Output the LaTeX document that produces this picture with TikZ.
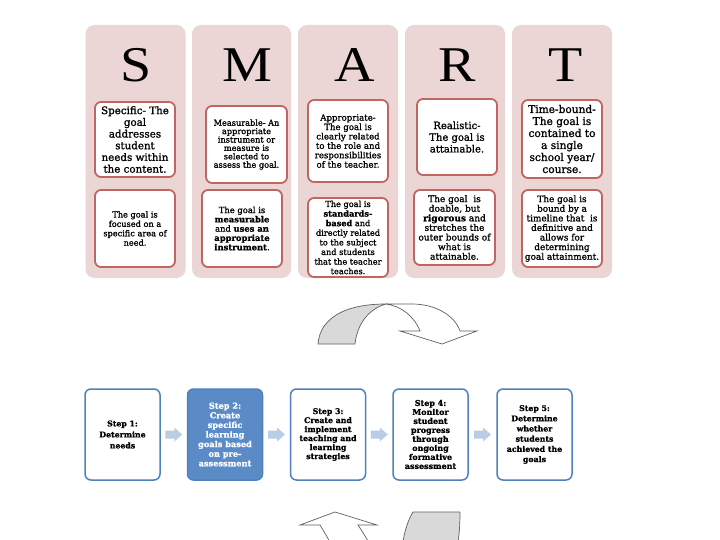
\documentclass[tikz,border=0pt]{standalone}
\usepackage{fontspec}
\setmainfont{DejaVu Serif}[RawFeature={embolden=1.2}]
\newfontfamily\letterfont{Liberation Serif}
\usetikzlibrary{calc}
\definecolor{colpink}{HTML}{EBD5D5}
\definecolor{boxred}{HTML}{BF6661}
\definecolor{stepblue}{HTML}{4F81BD}
\definecolor{stepfill}{HTML}{5A8BC6}
\definecolor{arrowblue}{HTML}{B9CDE5}
\definecolor{curvegray}{HTML}{D9D9D9}
\definecolor{curveline}{HTML}{606060}
\newcommand{\myfs}[2]{\fontsize{#1}{#2}\selectfont}
\newcommand{\wideletter}[1]{\scalebox{1.12}[1]{#1}}
\begin{document}
\begin{tikzpicture}[x=1pt,y=-1pt,
  col/.style={fill=colpink, rounded corners=9pt, minimum width=100pt, minimum height=253pt, inner sep=0pt},
  letter/.style={font=\letterfont\fontsize{50}{50}\selectfont, inner sep=0pt},
  redbox/.style={draw=boxred, line width=1.8pt, fill=white, rounded corners=6pt, align=center, inner sep=1pt, minimum width=80pt},
  stepbox/.style={draw=stepblue, line width=1.5pt, fill=white, rounded corners=6pt, align=center, inner sep=1pt, minimum width=75pt, minimum height=91pt},
  curvepart/.style={draw=curveline, line width=0.7pt},
  steparrow/.pic={\fill[arrowblue] (-8.5,-4) -- (0.5,-4) -- (0.5,-7) -- (8.5,0) -- (0.5,7) -- (0.5,4) -- (-8.5,4) -- cycle;}
]
\clip (0,0) rectangle (720,540);
\fill[white] (0,0) rectangle (720,540);

% columns
\node[col] (colS) at (135.5,151.5) {};
\node[col, minimum width=99pt] (colM) at (241.5,151.5) {};
\node[col] (colA) at (348,151.5) {};
\node[col] (colR) at (455,151.5) {};
\node[col] (colT) at (562,151.5) {};

% letters
\node[letter] (letS) at (136,65) {\wideletter{S}};
\node[letter] (letM) at (247,65) {\wideletter{M}};
\node[letter] (letA) at (355,65) {\wideletter{A}};
\node[letter] (letR) at (457,65) {\wideletter{R}};
\node[letter] (letT) at (566,65) {\wideletter{T}};

% upper boxes
\node[redbox, minimum height=75pt, font=\myfs{10.3}{11.7}] (s1) at (135,139.5)
  {Specific- The\\ goal\\ addresses\\ student\\ needs within\\ the content.};
\node[redbox, minimum width=81pt, minimum height=77pt, font=\myfs{8.2}{8.4}] (m1) at (246.5,144.5)
  {Measurable- An\\ appropriate\\ instrument or\\ measure is\\ selected to\\ assess the goal.};
\node[redbox, minimum height=82pt, font=\myfs{8.6}{9.4}] (a1) at (348,141)
  {Appropriate-\\ The goal is\\ clearly related\\ to the role and\\ responsibilities\\ of the teacher.};
\node[redbox, minimum height=76pt, font=\myfs{10}{11.7}] (r1) at (457,137)
  {Realistic-\\ The goal is\\ attainable.};
\node[redbox, minimum height=78pt, font=\myfs{10.6}{12}] (t1) at (562,139)
  {Time-bound-\\ The goal is\\ contained to\\ a single\\ school year/\\ course.};

% lower boxes
\node[redbox, minimum height=77pt, font=\myfs{8.2}{9.4}] (s2) at (135,228.5)
  {The goal is\\ focused on a\\ specific area of\\ need.};
\node[redbox, minimum height=77pt, font=\myfs{8.4}{9.3}] (m2) at (242,228.5)
  {The goal is\\ \textbf{measurable}\\ and \textbf{uses an}\\ \textbf{appropriate}\\ \textbf{instrument}.};
\node[redbox, minimum height=79pt, font=\myfs{8.2}{9.6}] (a2) at (348,237.5)
  {The goal is\\ \textbf{standards-}\\ \textbf{based} and\\ directly related\\ to the subject\\ and students\\ that the teacher\\ teaches.};
\node[redbox, minimum width=81pt, minimum height=75pt, font=\myfs{9}{9.6}] (r2) at (454.5,227.5)
  {The goal\ \ is\\ doable, but\\ \textbf{rigorous} and\\ stretches the\\ outer bounds of\\ what is\\ attainable.};
\node[redbox, minimum height=77pt, font=\myfs{8.9}{9.6}] (t2) at (562,228.5)
  {The goal is\\ bound by a\\ timeline that\ \ is\\ definitive and\\ allows for\\ determining\\ goal attainment.};

% curved arrow (top)
\filldraw[curvepart, fill=curvegray] (318,344) .. controls (320,318) and (345,304) .. (386,304)
  .. controls (368,309) and (357,325) .. (355,344) -- cycle;
\filldraw[curvepart, fill=white] (386,304) -- (412,304) .. controls (436,304) and (455,316) .. (460,331)
  -- (477,331) -- (442,344) -- (400,331) -- (420,331) .. controls (414,316) and (401,306) .. (386,304) -- cycle;

% steps
\node[stepbox, font=\bfseries\myfs{7.8}{11}] (st1) at (122.5,434.5) {Step 1:\\ Determine\\ needs};
\node[stepbox, fill=stepfill, text=white, font=\bfseries\myfs{8.2}{9.6}] (st2) at (225,434.5)
  {Step 2:\\ Create\\ specific\\ learning\\ goals based\\ on pre-\\ assessment};
\node[stepbox, font=\bfseries\myfs{7.8}{9}] (st3) at (328,434.5)
  {Step 3:\\ Create and\\ implement\\ teaching and\\ learning\\ strategies};
\node[stepbox, font=\bfseries\myfs{8}{9}] (st4) at (430.5,434.5)
  {Step 4:\\ Monitor\\ student\\ progress\\ through\\ ongoing\\ formative\\ assessment};
\node[stepbox, font=\bfseries\myfs{7.8}{10.2}] (st5) at (534.5,434.5)
  {Step 5:\\ Determine\\ whether\\ students\\ achieved the\\ goals};

\pic at ($(st1.east)!0.5!(st2.west)$) {steparrow};
\pic at ($(st2.east)!0.5!(st3.west)$) {steparrow};
\pic at ($(st3.east)!0.5!(st4.west)$) {steparrow};
\pic at ($(st4.east)!0.5!(st5.west)$) {steparrow};

% curved arrow (bottom)
\filldraw[curvepart, fill=curvegray] (413,512) -- (460,512) .. controls (460,526) and (459,538) .. (457,548)
  -- (402,548) .. controls (404,532) and (408,520) .. (413,512) -- cycle;
\filldraw[curvepart, fill=white] (333,548) .. controls (328,538) and (323,530) .. (320,525)
  -- (300,525) -- (335,512) -- (377,525) -- (358,525) .. controls (362,531) and (367,539) .. (372,548);
\end{tikzpicture}
\end{document}
